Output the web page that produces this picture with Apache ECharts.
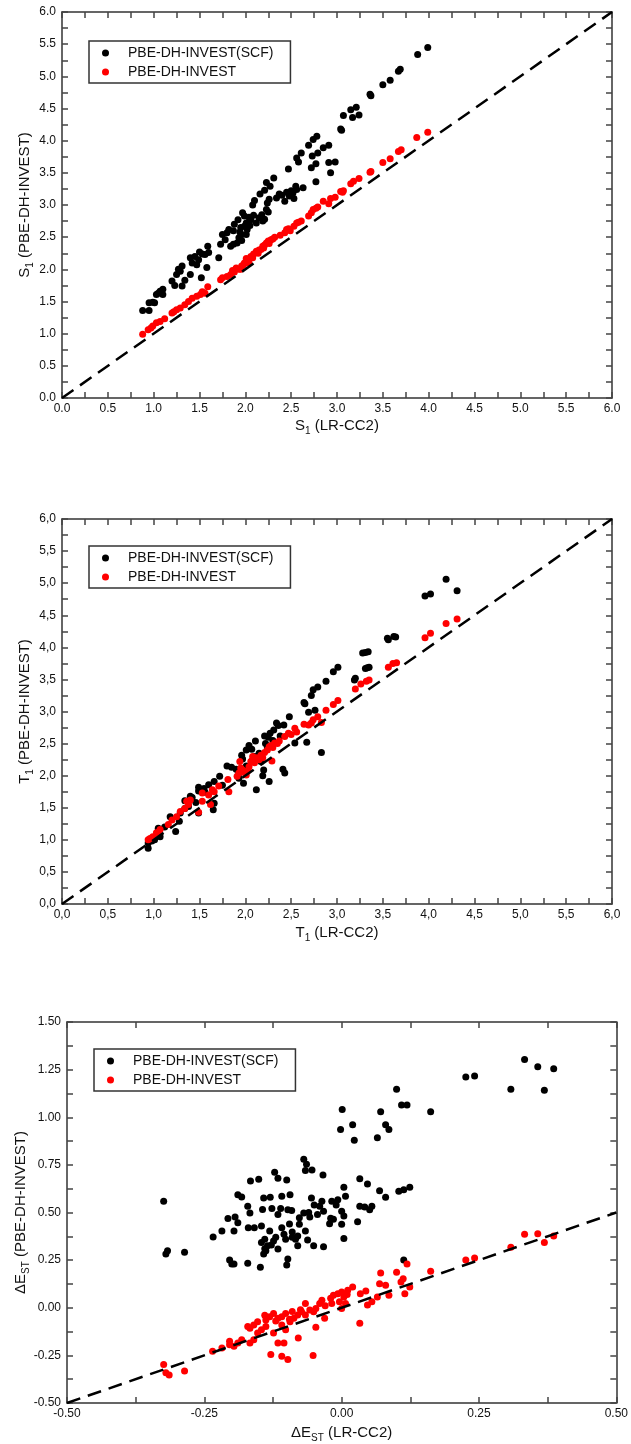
<!DOCTYPE html>
<html>
<head>
<meta charset="utf-8">
<script src="https://cdn.jsdelivr.net/npm/echarts@6/dist/echarts.min.js"></script>
<style>
html,body{margin:0;padding:0;background:#fff;}
#chart{width:631px;height:1444px;}
</style>
</head>
<body>
<div id="chart"></div>
<script>
const seriesNames = ['PBE-DH-INVEST(SCF)', 'PBE-DH-INVEST'];

// Panel 1: S1
const s1Scf = [
[3.99,5.45],[3.88,5.34],[3.69,5.11],[3.67,5.08],[3.58,4.94],[3.50,4.87],[3.36,4.72],[3.37,4.70],
[3.24,4.40],[3.21,4.52],[3.15,4.48],[3.17,4.36],[3.07,4.39],[3.04,4.18],[3.05,4.16],
[2.98,3.67],[2.91,3.66],[2.93,3.50],[2.91,3.93],[2.85,3.89],[2.78,4.07],[2.74,4.02],
[2.79,3.81],[2.73,3.76],[2.77,3.64],[2.72,3.58],[2.77,3.36],[2.69,3.93],
[2.61,3.81],[2.56,3.73],[2.58,3.67],[2.47,3.56],
[2.63,3.27],[2.56,3.24],[2.52,3.19],[2.45,3.20],[2.43,3.06],[2.53,3.10],[2.48,3.14],[2.55,3.29],[2.50,3.22],
[2.31,3.42],[2.23,3.35],[2.27,3.29],[2.21,3.23],[2.16,3.17],
[2.37,3.17],[2.34,3.11],[2.26,3.09],[2.24,3.03],[2.40,3.15],
[2.10,3.07],[2.08,3.00],
[2.23,2.93],[2.18,2.85],[2.15,2.80],[2.19,2.75],[2.12,2.72],[2.25,2.89],[2.21,2.78],
[1.97,2.88],[1.99,2.83],[1.92,2.77],[2.01,2.72],[2.06,2.77],[2.04,2.81],[2.09,2.84],
[1.88,2.70],[1.95,2.65],[1.87,2.60],[1.82,2.62],[1.80,2.57],[1.75,2.54],[1.78,2.46],
[1.96,2.54],[1.93,2.49],[1.91,2.41],[1.87,2.39],[1.84,2.36],[1.96,2.45],[2.01,2.54],[2.02,2.62],[1.99,2.67],[1.94,2.58],[2.05,2.68],
[1.73,2.39],[1.71,2.18],
[1.59,2.36],[1.56,2.23],[1.50,2.27],[1.49,2.15],[1.45,2.20],[1.47,2.07],[1.42,2.10],[1.60,2.26],[1.58,2.03],[1.53,2.24],
[1.52,1.87],[1.40,1.92],[1.40,2.18],
[1.31,2.05],[1.27,2.00],[1.25,1.92],[1.34,1.83],[1.31,1.74],[1.29,1.97],
[1.20,1.82],[1.23,1.75],
[1.10,1.69],[1.05,1.63],[1.10,1.61],[1.03,1.61],[1.07,1.66],
[0.99,1.49],[0.95,1.48],[1.01,1.48],[0.95,1.36],[0.88,1.36]
];
const s1Inv = [
[3.99,4.13],[3.87,4.05],[3.70,3.86],[3.67,3.83],[3.58,3.72],[3.50,3.66],[3.36,3.51],[3.37,3.52],
[3.24,3.41],[3.18,3.37],[3.15,3.33],[3.07,3.22],[3.04,3.21],[3.06,3.20],
[2.98,3.12],[2.93,3.10],[2.91,3.02],[2.85,3.06],[2.79,2.97],[2.74,2.93],[2.72,2.88],[2.69,2.83],[2.77,2.95],
[2.61,2.75],[2.56,2.72],[2.53,2.67],[2.58,2.73],[2.47,2.63],[2.43,2.57],[2.38,2.53],[2.49,2.60],[2.45,2.62],
[2.32,2.50],[2.28,2.46],[2.23,2.41],[2.19,2.36],[2.17,2.31],[2.30,2.47],[2.25,2.44],[2.21,2.38],[2.26,2.40],
[2.12,2.28],[2.09,2.24],[2.06,2.20],[2.01,2.17],[1.99,2.10],[1.96,2.05],[1.93,2.00],[1.88,1.96],[1.84,1.92],[1.80,1.89],[1.75,1.87],[1.73,1.84],
[2.04,2.10],[2.08,2.18],[2.14,2.25],[2.03,2.14],[1.98,2.07],[1.90,2.02],[1.86,1.98],[1.95,2.00],[2.15,2.30],[2.20,2.33],
[1.59,1.73],[1.56,1.63],[1.51,1.61],[1.47,1.58],[1.42,1.55],[1.38,1.50],[1.53,1.65],
[1.34,1.45],[1.29,1.40],[1.25,1.37],[1.20,1.32],[1.22,1.34],
[1.12,1.23],[1.07,1.19],[1.03,1.17],[0.99,1.12],[0.94,1.06],[0.88,0.99],[0.97,1.09]
];

// Panel 2: T1
const t1Scf = [
[4.19,5.06],[4.31,4.88],[4.02,4.83],[3.96,4.80],
[3.55,4.14],[3.64,4.16],[3.56,4.12],[3.62,4.17],
[3.34,3.93],[3.28,3.91],[3.31,3.92],[3.33,3.68],[3.31,3.67],[3.35,3.69],
[3.20,3.52],[3.19,3.49],[3.01,3.69],[2.96,3.62],[2.88,3.47],
[2.79,3.38],[2.74,3.34],[2.72,3.25],[2.64,3.14],[2.65,3.12],
[2.76,3.02],[2.69,2.99],[2.48,2.92],[2.83,2.36],[2.67,2.52],[2.54,2.51],
[2.42,2.79],[2.34,2.82],[2.36,2.78],[2.31,2.71],[2.27,2.66],[2.21,2.62],[2.25,2.60],
[2.11,2.54],[2.04,2.47],[2.07,2.41],
[2.41,2.10],[2.43,2.04],[2.26,1.91],[2.19,2.00],[2.20,2.09],[2.12,1.78],
[1.96,2.32],[1.97,2.26],[1.85,2.13],[1.80,2.15],[1.98,1.88],[1.93,2.04],
[1.72,1.99],[1.66,1.91],[1.60,1.86],[1.49,1.82],[1.49,1.76],
[1.40,1.68],[1.42,1.66],[1.34,1.61],[1.66,1.57],[1.65,1.47],[1.49,1.42],
[1.34,1.49],[1.29,1.42],[1.18,1.36],[1.28,1.29],[1.24,1.13],
[1.05,1.18],[1.07,1.05],[1.01,1.00],[0.94,0.87],[0.94,0.95],[0.98,0.98],
[2.01,2.40],[2.15,2.35],[2.08,2.25],[2.24,2.43],[2.17,2.22],[2.01,2.15],[1.93,1.96],
[2.30,2.55],[2.38,2.62],[2.22,2.50],[2.10,2.30],[1.90,2.10],[1.56,1.74],[1.46,1.58],[1.38,1.52],[1.12,1.20],[1.55,1.80],[1.75,1.85]
];
const t1Inv = [
[4.31,4.44],[4.19,4.37],[4.02,4.22],[3.96,4.15],[3.65,3.76],[3.61,3.75],[3.56,3.69],
[3.35,3.49],[3.32,3.47],[3.26,3.43],[3.20,3.35],[3.01,3.17],[2.96,3.11],[2.88,3.02],
[2.83,2.83],[2.79,2.92],[2.74,2.87],[2.72,2.82],[2.69,2.79],[2.64,2.80],
[2.54,2.74],[2.47,2.66],[2.43,2.61],[2.50,2.64],[2.56,2.68],
[2.37,2.54],[2.32,2.51],[2.28,2.47],[2.24,2.40],[2.21,2.36],[2.35,2.50],[2.30,2.44],[2.26,2.45],
[2.17,2.32],[2.15,2.25],[2.10,2.20],[2.08,2.30],[2.12,2.28],[2.19,2.28],[2.06,2.22],
[2.04,2.14],[1.97,2.09],[1.93,2.04],[1.91,1.99],[2.01,2.01],[1.95,2.12],[1.99,2.05],[2.03,2.08],[1.94,2.22],
[2.29,2.23],[1.81,1.94],[1.82,1.75],[1.71,1.84],[1.64,1.78],[1.60,1.70],[1.66,1.75],
[1.53,1.73],[1.49,1.43],[1.40,1.62],[1.36,1.60],[1.34,1.49],[1.29,1.44],[1.38,1.55],
[1.25,1.36],[1.20,1.31],[1.16,1.24],[1.07,1.16],[1.03,1.11],[0.99,1.05],[0.94,1.00],[0.96,1.02],[1.05,1.12],
[1.62,1.55],[1.53,1.60]
];

// Panel 3: Delta E_ST
const dstScf = [
[0.333,1.303],[0.357,1.265],[0.386,1.254],[0.369,1.142],[0.308,1.147],[0.226,1.211],[0.242,1.216],
[0.100,1.147],[0.109,1.064],[0.119,1.064],[0.162,1.029],[0.001,1.041],[0.071,1.029],
[-0.002,0.936],[0.020,0.960],[0.023,0.879],[0.065,0.893],[0.080,0.960],[0.086,0.936],
[0.124,0.633],[0.113,0.619],[0.104,0.611],[0.113,0.251],
[0.069,0.614],[0.080,0.580],[0.033,0.677],[0.047,0.650],
[0.033,0.533],[0.042,0.529],[0.055,0.533],[0.051,0.514],[0.029,0.452],
[0.004,0.632],[0.007,0.585],[-0.007,0.567],[-0.018,0.559],
[0.000,0.507],[0.004,0.481],[0.000,0.438],[-0.015,0.464],[-0.022,0.441],[0.004,0.363],
[-0.069,0.780],[-0.064,0.753],[-0.066,0.720],[-0.054,0.723],[-0.034,0.697],
[-0.055,0.576],[-0.036,0.559],[-0.040,0.533],[-0.033,0.507],[-0.044,0.490],[-0.058,0.476],[-0.069,0.498],[-0.077,0.472],
[-0.077,0.438],[-0.066,0.403],[-0.080,0.377],[-0.090,0.398],[-0.084,0.360],[-0.062,0.355],[-0.051,0.325],[-0.033,0.320],[-0.080,0.325],
[-0.098,0.515],[-0.091,0.510],[-0.094,0.593],[-0.100,0.671],[-0.122,0.711],[-0.116,0.680],
[-0.109,0.585],[-0.111,0.521],[-0.116,0.490],[-0.109,0.420],[-0.105,0.386],[-0.102,0.360],
[-0.098,0.256],[-0.100,0.225],
[-0.131,0.403],[-0.124,0.351],[-0.135,0.325],[-0.116,0.308],[-0.146,0.343],[-0.138,0.299],[-0.142,0.282],
[-0.130,0.580],[-0.127,0.521],[-0.142,0.576],[-0.144,0.516],[-0.151,0.675],[-0.166,0.666],
[-0.171,0.533],[-0.167,0.498],[-0.170,0.420],[-0.159,0.420],[-0.146,0.429],
[-0.189,0.593],[-0.182,0.581],[-0.194,0.477],[-0.189,0.446],[-0.207,0.469],
[-0.218,0.403],[-0.196,0.403],[-0.234,0.372],
[-0.204,0.251],[-0.200,0.230],[-0.196,0.230],[-0.171,0.234],[-0.148,0.213],
[-0.286,0.291],[-0.317,0.299],[-0.320,0.282],[-0.324,0.559],
[-0.140,0.310],[-0.128,0.330],[-0.120,0.370],[-0.090,0.370],[-0.095,0.440],[-0.140,0.360],[-0.060,0.500],[-0.020,0.470],[-0.010,0.540],[-0.050,0.540]
];
const dstInv = [
[0.333,0.386],[0.357,0.389],[0.386,0.377],[0.369,0.343],[0.308,0.317],[0.242,0.261],[0.226,0.251],
[0.162,0.192],[0.119,0.230],[0.112,0.152],[0.108,0.135],[0.124,0.109],[0.115,0.074],[0.100,0.187],
[0.071,0.182],[0.069,0.126],[0.080,0.118],[0.086,0.066],[0.065,0.057],[0.044,0.088],[0.034,0.074],
[0.020,0.109],[0.011,0.092],[0.055,0.031],[0.047,0.014],[0.033,-0.081],
[0.000,0.083],[-0.007,0.074],[0.004,0.057],[-0.015,0.066],[-0.004,0.031],[-0.018,0.022],[0.007,0.022],[0.000,-0.004],
[-0.036,0.040],[-0.040,0.022],[-0.031,-0.055],[-0.047,-0.102],
[-0.066,0.022],[-0.058,-0.012],[-0.073,-0.021],[-0.066,-0.038],[-0.051,-0.021],[-0.047,-0.004],
[-0.080,-0.038],[-0.087,-0.055],[-0.094,-0.073],[-0.079,-0.159],[-0.052,-0.251],
[-0.102,-0.030],[-0.109,-0.047],[-0.116,-0.055],[-0.109,-0.090],[-0.102,-0.116],
[-0.124,-0.030],[-0.131,-0.047],[-0.138,-0.064],[-0.138,-0.099],[-0.146,-0.116],[-0.124,-0.133],
[-0.116,-0.185],[-0.105,-0.185],[-0.129,-0.246],[-0.109,-0.254],[-0.098,-0.272],
[-0.153,-0.073],[-0.160,-0.090],[-0.167,-0.107],[-0.171,-0.099],[-0.153,-0.133],[-0.160,-0.168],[-0.167,-0.185],
[-0.182,-0.168],[-0.189,-0.185],[-0.204,-0.176],[-0.204,-0.194],[-0.196,-0.202],
[-0.218,-0.211],[-0.235,-0.228],[-0.286,-0.332],[-0.324,-0.298],[-0.320,-0.341],[-0.314,-0.353],
[-0.090,-0.020],[-0.120,-0.070],[-0.140,-0.040],[-0.095,-0.060],[-0.075,-0.010],[-0.030,0.010],[-0.020,0.050],[0.010,0.070]
];

// Reference (y = x) lines
const diag1 = [[0,0],[6,6]];
const diag2 = [[0,0],[6,6]];
const diag3 = [[-0.5,-0.5],[0.5,0.5]];

// Axis ranges / names
const panels = [
  {xMin:0, xMax:6, yMin:0, yMax:6, step:0.25, labelStep:0.5, dec:1, comma:false,
   xName:'{a|S}{s|1}{a| (LR-CC2)}', yName:'{a|S}{s|1}{a| (PBE-DH-INVEST)}',
   scf:s1Scf, inv:s1Inv, diag:diag1},
  {xMin:0, xMax:6, yMin:0, yMax:6, step:0.25, labelStep:0.5, dec:1, comma:true,
   xName:'{a|T}{s|1}{a| (LR-CC2)}', yName:'{a|T}{s|1}{a| (PBE-DH-INVEST)}',
   scf:t1Scf, inv:t1Inv, diag:diag2},
  {xMin:-0.5, xMax:0.5, yMin:-0.5, yMax:1.5, step:0.125, labelStep:0.25, dec:2, comma:false,
   xName:'{a|ΔE}{s|ST}{a| (LR-CC2)}', yName:'{a|ΔE}{s|ST}{a| (PBE-DH-INVEST)}',
   scf:dstScf, inv:dstInv, diag:diag3}
];

const FONT = '"Liberation Sans", Arial, sans-serif';
const grids = [
  {left:62, top:12, width:550, height:386},
  {left:62, top:519, width:550, height:385},
  {left:67, top:1022, width:552, height:385}
];
const legendPos = [{left:89, top:41},{left:89, top:546},{left:94, top:1049}];
const yNameGap = [27, 27, 36];
const xNameGap = [18, 19, 20];

function fmt(p, min) {
  return function(v) {
    const k = Math.round((v - min) / p.labelStep * 1000) / 1000;
    if (Math.abs(k - Math.round(k)) > 1e-6) return '';
    let s = (Math.abs(v) < 1e-9 ? 0 : v).toFixed(p.dec);
    if (p.comma) s = s.replace('.', ',');
    return s;
  };
}
const nameStyle = {
  fontSize: 15, color: '#111', fontFamily: FONT,
  rich: {
    a: {fontSize: 15, color: '#111', fontFamily: FONT},
    s: {fontSize: 10, color: '#111', fontFamily: FONT, verticalAlign: 'bottom', padding: [10,0,0,0]}
  }
};

const xAxes = [], yAxes = [], series = [], legends = [];
panels.forEach((p, i) => {
  const base = {
    type: 'value', gridIndex: i, interval: p.step,
    splitLine: {show: false},
    axisLine: {show: true, onZero: false, lineStyle: {color: '#333', width: 1.5}},
    axisTick: {show: true, inside: true, length: 6, lineStyle: {color: '#444', width: 1.5}}
  };
  const xb = Object.assign({}, base, {min: p.xMin, max: p.xMax});
  const yb = Object.assign({}, base, {min: p.yMin, max: p.yMax});
  xAxes.push(Object.assign({}, xb, {
    position: 'bottom',
    axisLabel: {formatter: fmt(p, p.xMin), margin: 5, fontSize: 12, color: '#111', fontFamily: FONT},
    name: p.xName, nameLocation: 'middle', nameGap: xNameGap[i], nameTextStyle: nameStyle
  }));
  xAxes.push(Object.assign({}, xb, {position: 'top', axisLabel: {show: false}}));
  yAxes.push(Object.assign({}, yb, {
    position: 'left',
    axisLabel: {formatter: fmt(p, p.yMin), margin: 6, fontSize: 12, color: '#111', fontFamily: FONT},
    name: p.yName, nameLocation: 'middle', nameGap: yNameGap[i], nameRotate: 90,
    nameMoveOverlap: false, nameTextStyle: nameStyle
  }));
  yAxes.push(Object.assign({}, yb, {position: 'right', axisLabel: {show: false}}));

  series.push({
    name: seriesNames[0], type: 'scatter', xAxisIndex: 2*i, yAxisIndex: 2*i,
    data: p.scf, symbol: 'circle', symbolSize: 7, itemStyle: {color: '#000', opacity: 1}, z: 2
  });
  series.push({
    name: seriesNames[1], type: 'scatter', xAxisIndex: 2*i, yAxisIndex: 2*i,
    data: p.inv, symbol: 'circle', symbolSize: 7, itemStyle: {color: '#ff0000', opacity: 1}, z: 3
  });
  series.push({
    name: 'diag' + i, type: 'line', xAxisIndex: 2*i, yAxisIndex: 2*i,
    data: p.diag, showSymbol: false, symbol: 'none', silent: true, z: 4,
    lineStyle: {color: '#000', width: 2.5, type: [14, 8]}
  });
  legends.push({
    data: seriesNames, orient: 'vertical', left: legendPos[i].left, top: legendPos[i].top,
    itemWidth: 7, itemHeight: 7, itemGap: 5, icon: 'circle',
    padding: [5, 17, 4, 13], borderColor: '#333', borderWidth: 1.5,
    formatter: n => '{t|' + n + '}',
    textStyle: {fontSize: 14, color: '#111', fontFamily: FONT,
      rich: {t: {fontSize: 14, color: '#111', fontFamily: FONT, padding: [0,0,0,14]}}}
  });
});

const chart = echarts.init(document.getElementById('chart'), null, {renderer: 'canvas'});
chart.setOption({
  animation: false,
  backgroundColor: '#fff',
  grid: grids,
  xAxis: xAxes,
  yAxis: yAxes,
  legend: legends,
  series: series
});
</script>
</body>
</html>
